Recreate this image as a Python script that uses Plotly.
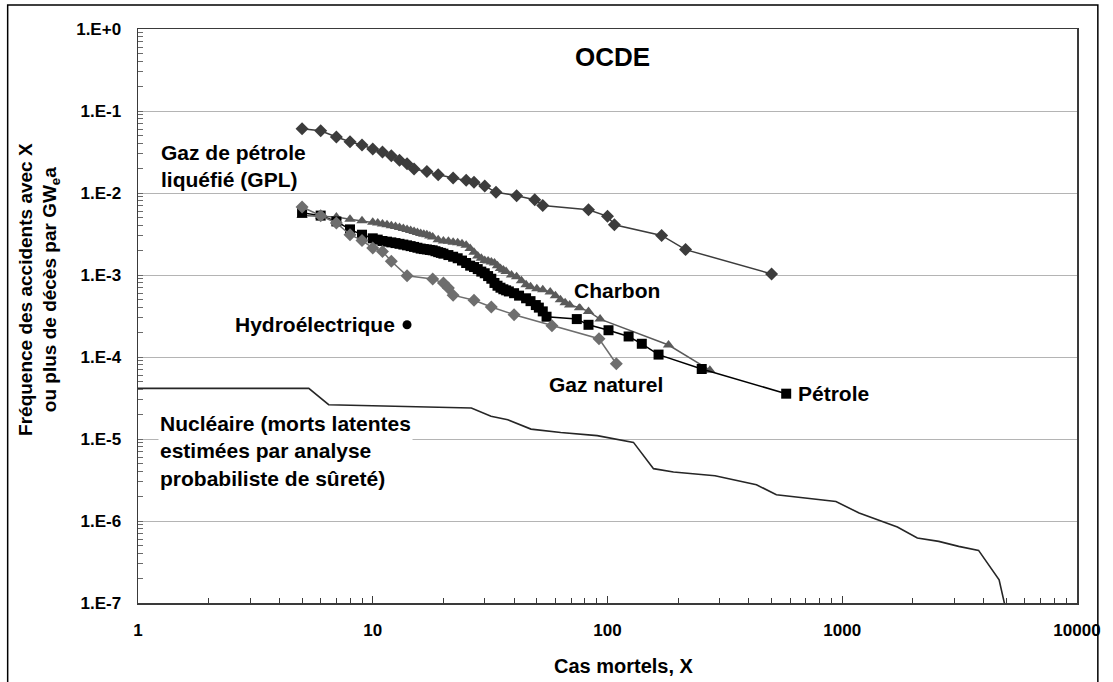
import plotly.graph_objects as go

# ---------------- data ----------------
gpl_x = [5, 6, 7, 8, 9, 10, 11, 12, 13, 14, 15, 17, 19, 22, 25, 27, 30, 33.5, 41, 49, 53, 83, 100, 107, 170, 215, 500]
gpl_y = [0.0608, 0.0575, 0.0482, 0.0422, 0.0385, 0.0344, 0.0316, 0.0285, 0.0250, 0.0228, 0.0196, 0.0183,
         0.0167, 0.0152, 0.0143, 0.0135, 0.0122, 0.0102, 0.00927, 0.00828, 0.00706, 0.00625, 0.00519,
         0.00410, 0.00304, 0.00204, 0.00103]

coal_x = [5, 6, 7, 8, 9, 10, 10.5, 11, 11.5, 12, 12.5, 13, 13.5, 14, 14.5, 15, 15.5, 16, 16.5, 17, 17.5, 18,
          19, 20, 21, 22, 23, 24, 25, 26, 27, 28, 29, 30, 31, 32, 33, 34, 35, 36, 37, 39, 41, 43, 45, 47, 50,
          53, 57, 60, 63, 66, 69, 76, 83, 93, 182, 273]
coal_y = [0.0053, 0.0052, 0.0051, 0.0048, 0.0046, 0.0044, 0.0043, 0.0042, 0.0041, 0.0040, 0.0039, 0.0038,
          0.0037, 0.0036, 0.0035, 0.0034, 0.0033, 0.0032, 0.00315, 0.0031, 0.003, 0.0029, 0.0027, 0.0026,
          0.00258, 0.0025, 0.00248, 0.0024, 0.0023, 0.0021, 0.0019, 0.0017, 0.0016, 0.0015, 0.00148, 0.00144,
          0.0014, 0.0013, 0.0012, 0.00115, 0.0011, 0.0010, 0.00095, 0.00085, 0.00076, 0.00072, 0.00068,
          0.00066, 0.00062, 0.00056, 0.0005, 0.00046, 0.00043, 0.0004, 0.00036, 0.00029, 0.00014, 0.000069]

oil_x = [5, 6, 7, 8, 9, 10, 10.5, 11, 11.5, 12, 12.5, 13, 13.5, 14, 14.5, 15, 15.5, 16, 16.5, 17, 17.5, 18,
         18.5, 19, 19.5, 20, 21, 22, 23, 24, 25, 26, 27, 28, 29, 30, 31, 32, 33, 34, 35, 36, 37, 38, 40, 42,
         45, 47, 49.5, 51, 53, 55, 74, 83, 101, 123, 140, 165, 252, 577]
oil_y = [0.00575, 0.0053, 0.0045, 0.0036, 0.0031, 0.0028, 0.0027, 0.0026, 0.00255, 0.0025, 0.00245, 0.0024,
         0.00235, 0.0023, 0.00225, 0.0022, 0.00215, 0.0021, 0.00207, 0.00205, 0.00202, 0.0020, 0.00195,
         0.0019, 0.00186, 0.00182, 0.00175, 0.00167, 0.0016, 0.0015, 0.0014, 0.0013, 0.00125, 0.00118,
         0.0011, 0.00105, 0.00097, 0.0009, 0.0008, 0.00074, 0.0007, 0.00067, 0.00065, 0.00063, 0.0006,
         0.00056, 0.00052, 0.00048, 0.00043, 0.0004, 0.00036, 0.00031, 0.00029, 0.000247, 0.000212,
         0.000178, 0.000145, 0.000107, 0.0000714, 0.0000357]

gas_x = [5, 6, 7, 8, 9, 10, 11, 12, 14, 18, 20, 21, 22, 27, 32, 40, 58, 92, 109]
gas_y = [0.00675, 0.00529, 0.00431, 0.0031, 0.00264, 0.00213, 0.00194, 0.00147, 0.00098, 0.000893, 0.000798,
         0.000694, 0.000567, 0.000493, 0.000407, 0.000328, 0.000241, 0.000167, 0.0000828]

hydro_x = [14]
hydro_y = [0.000247]

nuc_x = [1, 5.34, 6.49, 26.3, 31.9, 37.6, 47.2, 63.2, 90.4, 129, 157, 191, 287, 431, 524, 940, 1180, 1435,
         1717, 2088, 2577, 3133, 3808, 4658, 4941]
nuc_y = [4.14e-5, 4.14e-5, 2.62e-5, 2.39e-5, 1.89e-5, 1.72e-5, 1.32e-5, 1.2e-5, 1.1e-5, 9.1e-6, 4.35e-6,
         3.96e-6, 3.57e-6, 2.77e-6, 2.09e-6, 1.73e-6, 1.25e-6, 1.02e-6, 8.45e-7, 6.21e-7, 5.64e-7, 4.9e-7,
         4.38e-7, 1.92e-7, 9.1e-8]

y_tickvals = [1, 1e-1, 1e-2, 1e-3, 1e-4, 1e-5, 1e-6, 1e-7]
y_ticktext = ["1.E+0", "1.E-1", "1.E-2", "1.E-3", "1.E-4", "1.E-5", "1.E-6", "1.E-7"]
x_tickvals = [1, 10, 100, 1000, 10000]
x_ticktext = ["1", "10", "100", "1000", "10000"]

# ---------------- figure ----------------
FONT = "Liberation Sans, Arial, Helvetica, sans-serif"
fig = go.Figure()

fig.add_trace(go.Scatter(x=nuc_x, y=nuc_y, mode="lines",
                         line=dict(color="#262626", width=1.6), showlegend=False, hoverinfo="skip"))
fig.add_trace(go.Scatter(x=gpl_x, y=gpl_y, mode="lines+markers",
                         line=dict(color="#3c3c3c", width=1.5),
                         marker=dict(symbol="diamond", size=10, color="#3c3c3c"), showlegend=False))
fig.add_trace(go.Scatter(x=coal_x, y=coal_y, mode="lines+markers",
                         line=dict(color="#5a5a5a", width=1.5),
                         marker=dict(symbol="triangle-up", size=10, color="#5a5a5a"), showlegend=False))
fig.add_trace(go.Scatter(x=oil_x, y=oil_y, mode="lines+markers",
                         line=dict(color="#000000", width=1.5),
                         marker=dict(symbol="square", size=10, color="#000000"), showlegend=False))
fig.add_trace(go.Scatter(x=gas_x, y=gas_y, mode="lines+markers",
                         line=dict(color="#6e6e6e", width=1.5),
                         marker=dict(symbol="diamond", size=10, color="#6e6e6e"), showlegend=False))
fig.add_trace(go.Scatter(x=hydro_x, y=hydro_y, mode="markers",
                         marker=dict(symbol="circle", size=9, color="#000000"), showlegend=False))

axis_common = dict(type="log", showline=True, mirror=True, linecolor="#3a3a3a", linewidth=1.5,
                   ticks="inside", tickcolor="#3a3a3a", zeroline=False,
                   tickfont=dict(family=FONT, size=17, color="#000", weight="bold"))

fig.update_xaxes(**axis_common, range=[0, 4], tickmode="array", tickvals=x_tickvals, ticktext=x_ticktext,
                 ticklen=7, showgrid=False, ticklabelstandoff=11,
                 minor=dict(ticks="inside", ticklen=5, tickcolor="#3a3a3a", dtick="D1", showgrid=False))
fig.update_yaxes(**axis_common, range=[-7, 0], tickmode="array", tickvals=y_tickvals, ticktext=y_ticktext,
                 ticklen=0, showgrid=True, gridcolor="#b4b4b4", gridwidth=1, ticklabelstandoff=12,
                 minor=dict(ticks="inside", ticklen=5, tickcolor="#6a6a6a", dtick="D1", showgrid=False))

lab = dict(family=FONT, size=21, color="#000", weight="bold")
ann = [
    dict(text="OCDE", x=0.5057, y=0.9516, xanchor="center", yanchor="middle",
         font=dict(family=FONT, size=26, color="#000", weight="bold")),
    dict(text="Gaz de pétrole<br>liquéfié (GPL)", x=0.0219, y=0.7619, xanchor="left", yanchor="middle",
         align="left", font=lab, bgcolor="white"),
    dict(text="Charbon", x=0.5103, y=0.545, xanchor="center", yanchor="middle", font=lab, bgcolor="white"),
    dict(text="Hydroélectrique", x=0.2755, y=0.4848, xanchor="right", yanchor="middle", font=lab,
         bgcolor="white"),
    dict(text="Gaz naturel", x=0.5616, y=0.3803, xanchor="right", yanchor="middle", font=lab, bgcolor="white"),
    dict(text="Pétrole", x=0.7012, y=0.3646, xanchor="left", yanchor="middle", font=lab, bgcolor="white"),
    dict(text="Nucléaire (morts latentes<br>estimées par analyse<br>probabiliste de sûreté)",
         x=0.0208, y=0.2641, xanchor="left", yanchor="middle", align="left", font=lab, bgcolor="white"),
    dict(text="Fréquence des accidents avec X<br>ou plus de décès par GW<sub>e</sub>a",
         x=-0.1052, y=0.5458, xanchor="center", yanchor="middle", textangle=-90,
         font=dict(family=FONT, size=19, color="#000", weight="bold")),
    dict(text="Cas mortels, X", x=0.5179, y=-0.1105, xanchor="center", yanchor="middle",
         font=dict(family=FONT, size=20, color="#000", weight="bold")),
]
for a in ann:
    a.update(xref="paper", yref="paper", showarrow=False)

fig.update_layout(
    width=1113, height=682,
    margin=dict(l=138, r=31, t=29, b=79),
    paper_bgcolor="white", plot_bgcolor="white",
    annotations=ann,
    shapes=[dict(type="rect", xref="paper", yref="paper", x0=-0.1388, x1=1.0222, y0=-0.2, y1=1.0418,
                 line=dict(color="#000", width=1.5), fillcolor="rgba(0,0,0,0)", layer="above")],
    showlegend=False,
    hovermode=False,
)

fig.write_html("out.html", config={"displayModeBar": False, "staticPlot": True},
               post_script="document.body.style.margin='0';document.body.style.overflow='hidden';")
